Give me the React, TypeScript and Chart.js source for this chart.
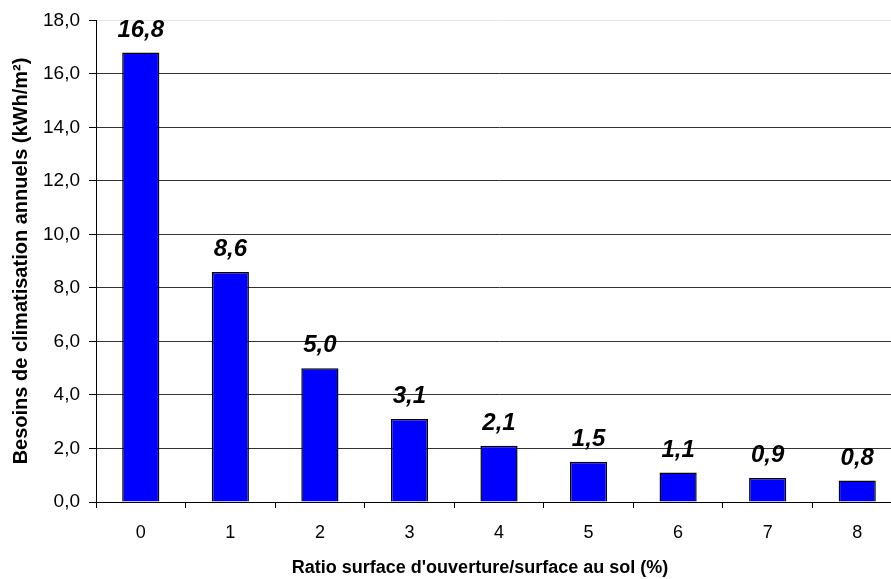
import React, { useEffect, useRef } from "react";
import { Chart, registerables } from "chart.js";

Chart.register(...registerables);

const categories: string[] = ["0", "1", "2", "3", "4", "5", "6", "7", "8"];
const besoins: number[] = [16.8, 8.6, 5.0, 3.1, 2.1, 1.5, 1.1, 0.9, 0.8];
const yTicks = { min: 0, max: 18, step: 2 };
const xTitle = "Ratio surface d'ouverture/surface au sol (%)";
const yTitle = "Besoins de climatisation annuels (kWh/m²)";

const FONT = "Arial, 'Liberation Sans', sans-serif";
const fmt = (v: number) => v.toFixed(1).replace(".", ",");

const labelsPlugin = {
  id: "barValueLabels",
  afterDatasetsDraw(chart: any) {
    const ctx = chart.ctx;
    const meta = chart.getDatasetMeta(0);
    ctx.save();
    ctx.font = `italic bold 24px ${FONT}`;
    ctx.fillStyle = "#000";
    ctx.textAlign = "center";
    ctx.textBaseline = "alphabetic";
    meta.data.forEach((bar: any, i: number) => {
      ctx.fillText(fmt(besoins[i]), bar.x, bar.y - 16);
    });
    ctx.restore();
  },
};

const titlesPlugin = {
  id: "axisTitles",
  afterDraw(chart: any) {
    const ctx = chart.ctx;
    ctx.save();
    ctx.fillStyle = "#000";
    ctx.textAlign = "center";
    ctx.textBaseline = "alphabetic";
    ctx.font = `bold 18px ${FONT}`;
    ctx.fillText(xTitle, 480, 573);
    ctx.font = `bold 20px ${FONT}`;
    ctx.translate(27, 261);
    ctx.rotate(-Math.PI / 2);
    ctx.fillText(yTitle, 0, 0);
    ctx.restore();
  },
};

export default function App() {
  const ref = useRef<HTMLCanvasElement | null>(null);
  useEffect(() => {
    if (!ref.current) return;
    const chart = new Chart(ref.current, {
      type: "bar",
      data: {
        labels: categories,
        datasets: [
          {
            data: besoins,
            backgroundColor: "#0000ff",
            borderColor: "#000000",
            borderWidth: 1.5,
            categoryPercentage: 1,
            barPercentage: 0.415,
          },
        ],
      },
      options: {
        responsive: false,
        animation: false,
        devicePixelRatio: 1,
        layout: { padding: { top: 18, right: 18, left: 0, bottom: 0 } },
        plugins: {
          legend: { display: false },
          tooltip: { enabled: false },
          title: { display: false },
        },
        scales: {
          x: {
            afterFit: (s: any) => {
              s.height = 77;
            },
            border: { color: "#000", width: 1 },
            grid: {
              offset: true,
              drawOnChartArea: false,
              drawTicks: true,
              tickLength: 6,
              tickColor: "#000",
            },
            ticks: {
              color: "#000",
              font: { family: FONT, size: 18 },
              padding: 14,
            },
          },
          y: {
            min: yTicks.min,
            max: yTicks.max,
            afterFit: (s: any) => {
              s.width = 96;
            },
            border: { color: "#000", width: 1 },
            grid: {
              color: (c: any) => (c.tick && c.tick.value === yTicks.max ? "#e4e4e4" : "#333"),
              lineWidth: 1,
              drawTicks: true,
              tickLength: 7,
              tickColor: "#000",
            },
            ticks: {
              stepSize: yTicks.step,
              color: "#000",
              font: { family: FONT, size: 19 },
              padding: 9,
              callback: (v: any) => fmt(Number(v)),
            },
          },
        },
      },
      plugins: [labelsPlugin, titlesPlugin],
    });
    return () => chart.destroy();
  }, []);
  return (
    <div
      style={{
        position: "absolute",
        left: 0,
        top: 0,
        width: 891,
        height: 579,
        overflow: "hidden",
        background: "#fff",
      }}
    >
      <canvas ref={ref} width={920} height={579} style={{ display: "block" }} />
    </div>
  );
}
